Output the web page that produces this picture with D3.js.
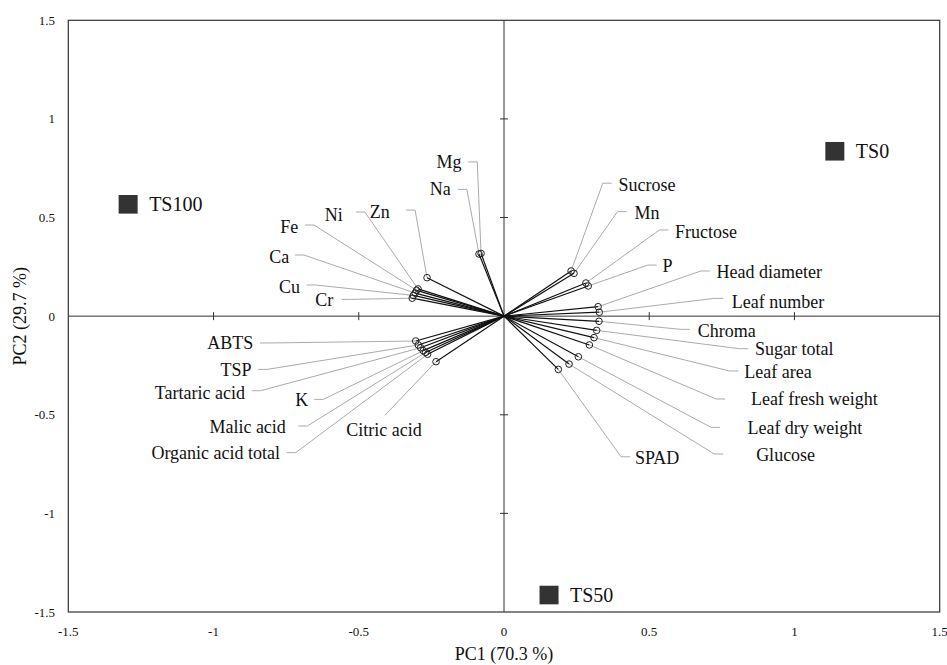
<!DOCTYPE html>
<html>
<head>
<meta charset="utf-8">
<script src="https://cdn.jsdelivr.net/npm/d3@7"></script>
<style>
  html, body { margin: 0; padding: 0; background: #fff; }
  svg { display: block; }
  text { font-family: "Liberation Serif", "Times New Roman", serif; fill: #111; }
</style>
</head>
<body>
<div id="chart"></div>
<script>
// ---- data ----
const variables = ["Mg","Na","Zn","Ni","Fe","Ca","Cu","Cr",
  "ABTS","TSP","Tartaric acid","K","Malic acid","Organic acid total","Citric acid",
  "Sucrose","Mn","Fructose","P","Head diameter","Leaf number","Chroma","Sugar total",
  "Leaf area","Leaf fresh weight","Leaf dry weight","Glucose","SPAD"];
const loadPC1 = [-0.079,-0.086,-0.265,-0.296,-0.301,-0.306,-0.312,-0.316,
  -0.304,-0.295,-0.287,-0.278,-0.270,-0.263,-0.234,
  0.231,0.241,0.282,0.290,0.324,0.328,0.327,0.319,
  0.310,0.294,0.256,0.224,0.187];
const loadPC2 = [0.318,0.315,0.195,0.138,0.131,0.117,0.105,0.091,
  -0.126,-0.146,-0.160,-0.175,-0.184,-0.193,-0.231,
  0.229,0.217,0.168,0.153,0.048,0.020,-0.026,-0.072,
  -0.109,-0.146,-0.206,-0.243,-0.270];
// label layout (data units): text anchor and leader start
const labelX = [-0.146,-0.183,-0.393,-0.555,-0.708,-0.739,-0.702,-0.588,
  -0.863,-0.869,-0.892,-0.674,-0.751,-0.771,-0.413,
  0.394,0.449,0.589,0.546,0.732,0.784,0.667,0.864,
  0.827,0.850,0.838,0.868,0.451];
const labelY = [0.782,0.643,0.530,0.513,0.454,0.298,0.149,0.082,
  -0.138,-0.273,-0.388,-0.425,-0.564,-0.695,-0.577,
  0.665,0.525,0.428,0.254,0.225,0.073,-0.074,-0.168,
  -0.282,-0.422,-0.566,-0.704,-0.721];
const leadX = [-0.123,-0.159,-0.337,-0.510,-0.685,-0.720,-0.679,-0.559,
  -0.840,-0.846,-0.869,-0.653,-0.708,-0.748,-0.409,
  0.371,0.422,0.566,0.526,0.709,0.755,0.640,0.841,
  0.807,0.761,0.744,0.755,0.434];
const leadY = [0.782,0.643,0.538,0.528,0.462,0.310,0.158,0.085,
  -0.136,-0.270,-0.378,-0.422,-0.557,-0.692,-0.501,
  0.674,0.530,0.437,0.259,0.229,0.090,-0.067,-0.165,
  -0.278,-0.420,-0.564,-0.699,-0.713];
const treatments = ["TS0","TS50","TS100"];
const scorePC1 = [1.139, 0.155, -1.294];
const scorePC2 = [0.836, -1.414, 0.567];
const ticks = [-1.5,-1,-0.5,0,0.5,1,1.5];
const xTitle = "PC1 (70.3 %)";
const yTitle = "PC2 (29.7 %)";

// ---- chart ----
const W = 947, H = 665;
const svg = d3.select("#chart").append("svg").attr("width", W).attr("height", H);
const x = d3.scaleLinear().domain([-1.5, 1.5]).range([68.3, 939.7]);
const y = d3.scaleLinear().domain([-1.5, 1.5]).range([612, 20.3]);

// frame
svg.append("rect").attr("x", x(-1.5)).attr("y", y(1.5))
  .attr("width", x(1.5) - x(-1.5)).attr("height", y(-1.5) - y(1.5))
  .attr("fill", "none").attr("stroke", "#333").attr("stroke-width", 1.2);

// zero axes with cross ticks
svg.append("line").attr("x1", x(0)).attr("x2", x(0)).attr("y1", y(1.5)).attr("y2", y(-1.5))
  .attr("stroke", "#333").attr("stroke-width", 1);
svg.append("line").attr("x1", x(-1.5)).attr("x2", x(1.5)).attr("y1", y(0)).attr("y2", y(0))
  .attr("stroke", "#333").attr("stroke-width", 1);
const inner = ticks.filter(t => t !== 0 && Math.abs(t) < 1.5);
svg.selectAll(".xt").data(inner).enter().append("line")
  .attr("x1", d => x(d)).attr("x2", d => x(d)).attr("y1", y(0) - 4).attr("y2", y(0) + 4)
  .attr("stroke", "#333");
svg.selectAll(".yt").data(inner).enter().append("line")
  .attr("y1", d => y(d)).attr("y2", d => y(d)).attr("x1", x(0) - 4).attr("x2", x(0) + 4)
  .attr("stroke", "#333");

// tick labels
svg.selectAll(".xl").data(ticks).enter().append("text")
  .attr("x", d => x(d)).attr("y", 631).attr("text-anchor", "middle")
  .attr("dominant-baseline", "central").attr("font-size", 13).text(d => d);
svg.selectAll(".yl").data(ticks).enter().append("text")
  .attr("x", 55).attr("y", d => y(d)).attr("text-anchor", "end")
  .attr("dominant-baseline", "central").attr("font-size", 13).text(d => d);

// axis titles
svg.append("text").attr("x", (x(-1.5) + x(1.5)) / 2).attr("y", 654)
  .attr("text-anchor", "middle").attr("dominant-baseline", "central")
  .attr("font-size", 18).text(xTitle);
svg.append("text").attr("transform", `translate(20,${y(0)}) rotate(-90)`)
  .attr("text-anchor", "middle").attr("dominant-baseline", "central")
  .attr("font-size", 18).text(yTitle);

// variables
const vars = variables.map((n, i) => ({
  name: n, px: loadPC1[i], py: loadPC2[i],
  lx: labelX[i], ly: labelY[i], sx: leadX[i], sy: leadY[i]
}));

// leader lines
vars.forEach(d => {
  const side = d.lx < d.px ? -1 : 1;
  const stub = d.name === "Citric acid" ? 0 : 9;
  const x1 = x(d.sx), y1 = y(d.sy);
  const x2 = x1 - side * stub;
  svg.append("polyline")
    .attr("points", `${x1},${y1} ${x2},${y1} ${x(d.px)},${y(d.py)}`)
    .attr("fill", "none").attr("stroke", "#aaa").attr("stroke-width", 1);
});

// vectors
svg.selectAll(".vec").data(vars).enter().append("line")
  .attr("x1", x(0)).attr("y1", y(0))
  .attr("x2", d => x(d.px)).attr("y2", d => y(d.py))
  .attr("stroke", "#111").attr("stroke-width", 1.2);
svg.selectAll(".dot").data(vars).enter().append("circle")
  .attr("cx", d => x(d.px)).attr("cy", d => y(d.py)).attr("r", 3.3)
  .attr("fill", "none").attr("stroke", "#222").attr("stroke-width", 1);

// labels
svg.selectAll(".vl").data(vars).enter().append("text")
  .attr("x", d => x(d.lx)).attr("y", d => y(d.ly))
  .attr("text-anchor", d => d.name === "Citric acid" ? "middle" : (d.lx < d.px ? "end" : "start"))
  .attr("dominant-baseline", "central").attr("font-size", 18)
  .text(d => d.name);

// treatments
const sc = treatments.map((n, i) => ({ name: n, px: scorePC1[i], py: scorePC2[i] }));
svg.selectAll(".sq").data(sc).enter().append("rect")
  .attr("x", d => x(d.px) - 9.5).attr("y", d => y(d.py) - 9.3)
  .attr("width", 19).attr("height", 18.6).attr("fill", "#333");
svg.selectAll(".sl").data(sc).enter().append("text")
  .attr("x", d => x(d.px) + 21).attr("y", d => y(d.py))
  .attr("dominant-baseline", "central").attr("font-size", 20)
  .text(d => d.name);
</script>
</body>
</html>
